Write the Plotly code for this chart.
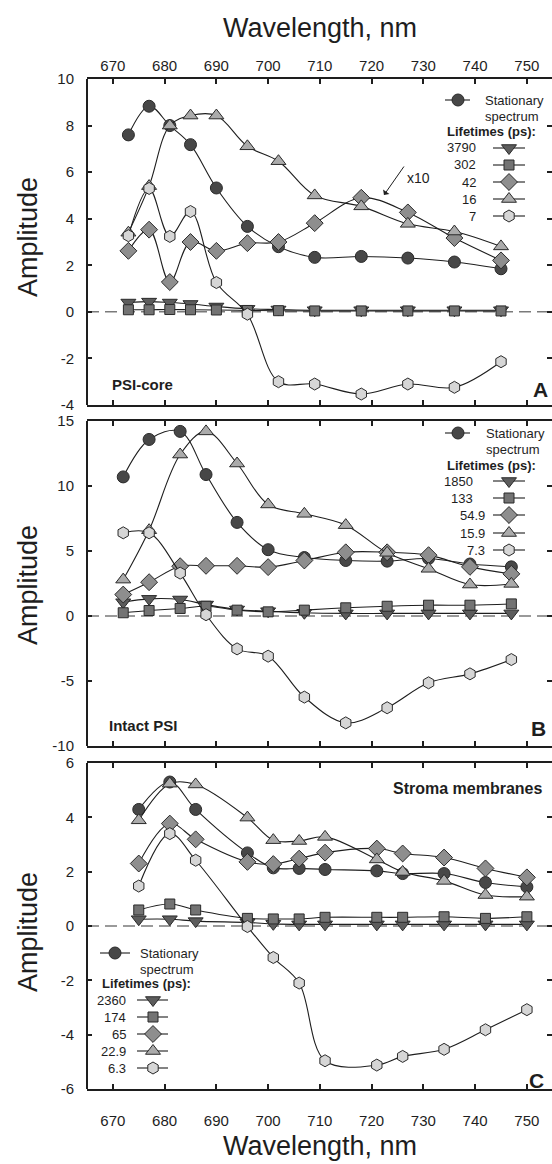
import plotly.graph_objects as go

# ---------------- data ----------------
# Panel A: PSI-core
wl_a = [673, 677, 681, 685, 690, 696, 702, 709, 718, 727, 736, 745]
stat_a = [7.6, 8.83, 8.0, 7.18, 5.32, 3.67, 2.8, 2.34, 2.38, 2.31, 2.14, 1.85]
a_3790 = [0.40, 0.44, 0.40, 0.34, 0.23, 0.13, 0.10, 0.07, 0.07, 0.07, 0.07, 0.07]
a_302 = [0.09, 0.09, 0.10, 0.09, 0.08, 0.06, 0.05, 0.04, 0.04, 0.04, 0.04, 0.04]
a_42 = [2.62, 3.53, 1.28, 3.0, 2.62, 2.95, 3.0, 3.81, 4.9, 4.27, 3.17, 2.21]
a_16 = [3.4, 5.4, 8.0, 8.43, 8.43, 7.11, 6.47, 5.0, 4.53, 3.78, 3.45, 2.81]
a_7 = [3.27, 5.3, 3.24, 4.31, 1.26, -0.1, -3.0, -3.1, -3.53, -3.1, -3.24, -2.14]
lt_a = ["3790", "302", "42", "16", "7"]

# Panel B: Intact PSI
wl_b = [672, 677, 683, 688, 694, 700, 707, 715, 723, 731, 739, 747]
stat_b = [10.7, 13.58, 14.2, 10.88, 7.2, 5.1, 4.5, 4.27, 4.22, 4.42, 4.0, 3.78]
b_1850 = [1.06, 1.32, 1.27, 0.88, 0.5, 0.37, 0.25, 0.2, 0.2, 0.2, 0.2, 0.2]
b_133 = [0.25, 0.42, 0.58, 0.75, 0.45, 0.32, 0.45, 0.63, 0.75, 0.83, 0.83, 0.93]
b_549 = [1.65, 2.6, 3.83, 3.86, 3.86, 3.76, 4.27, 4.9, 4.9, 4.68, 3.78, 3.24]
b_159 = [2.8, 6.6, 12.42, 14.2, 11.73, 8.58, 7.86, 6.99, 4.86, 3.63, 2.42, 2.47]
b_73 = [6.4, 6.4, 3.3, 0.1, -2.53, -3.09, -6.24, -8.22, -7.06, -5.14, -4.45, -3.35]
lt_b = ["1850", "133", "54.9", "15.9", "7.3"]

# Panel C: Stroma membranes
wl_c = [675, 681, 686, 696, 701, 706, 711, 721, 726, 734, 742, 750]
stat_c = [4.29, 5.3, 4.29, 2.69, 2.14, 2.12, 2.08, 2.03, 1.93, 1.93, 1.6, 1.44]
c_2360 = [0.25, 0.25, 0.18, 0.13, 0.08, 0.06, 0.06, 0.06, 0.06, 0.06, 0.06, 0.06]
c_174 = [0.59, 0.81, 0.59, 0.28, 0.26, 0.26, 0.32, 0.32, 0.32, 0.34, 0.28, 0.34]
c_65 = [2.3, 3.77, 3.19, 2.36, 2.28, 2.48, 2.7, 2.85, 2.67, 2.52, 2.12, 1.79]
c_229 = [3.89, 5.24, 5.21, 3.99, 3.16, 3.13, 3.28, 2.45, 1.99, 1.66, 1.14, 1.08]
c_63 = [1.47, 3.4, 2.42, -0.02, -1.16, -2.1, -4.96, -5.12, -4.8, -4.54, -3.82, -3.08]
lt_c = ["2360", "174", "65", "22.9", "6.3"]

x_ticks = [670, 680, 690, 700, 710, 720, 730, 740, 750]
y_ticks_a = [-4, -2, 0, 2, 4, 6, 8, 10]
y_ticks_b = [-10, -5, 0, 5, 10, 15]
y_ticks_c = [-6, -4, -2, 0, 2, 4, 6]

# ---------------- styling ----------------
W, H = 552, 1164
L, R, T, B = 87, 0, 79, 75
PW, PH = W - L - R, H - T - B
FONT = "Liberation Sans, Arial, sans-serif"
INK = "#1e1e1e"


def fx(px):
    return (px - L) / PW


def fy(py):
    return (H - B - py) / PH


STYLES = [  # stationary, long, square, diamond, triangle, hexagon
    dict(symbol="circle", size=12, color="#474747"),
    dict(symbol="triangle-down", size=13, color="#5c5c5c"),
    dict(symbol="square", size=10, color="#737373"),
    dict(symbol="diamond", size=13, color="#8e8e8e"),
    dict(symbol="triangle-up", size=13, color="#ababab"),
    dict(symbol="hexagon", size=12, color="#d6d6d6"),
]

fig = go.Figure()

panels = [
    dict(wl=wl_a, series=[stat_a, a_3790, a_302, a_42, a_16, a_7], top=79, bot=405,
         yr=[-4, 10], yt=y_ticks_a),
    dict(wl=wl_b, series=[stat_b, b_1850, b_133, b_549, b_159, b_73], top=421, bot=746,
         yr=[-10, 15], yt=y_ticks_b),
    dict(wl=wl_c, series=[stat_c, c_2360, c_174, c_65, c_229, c_63], top=763, bot=1089,
         yr=[-6, 6], yt=y_ticks_c),
]

shapes = []
for i, p in enumerate(panels):
    sfx = "" if i == 0 else str(i + 1)
    xa, ya = "x" + sfx, "y" + sfx
    for s, st in zip(p["series"], STYLES):
        fig.add_trace(go.Scatter(
            x=p["wl"], y=s, xaxis=xa, yaxis=ya, mode="lines+markers",
            line=dict(color=INK, width=1.1, shape="spline", smoothing=1.0),
            marker=dict(symbol=st["symbol"], size=st["size"], color=st["color"],
                        line=dict(color="#2a2a2a", width=1)),
            showlegend=False, hoverinfo="skip", cliponaxis=False))
    dom = [fy(p["bot"]), fy(p["top"])]
    fig.update_layout(**{
        "xaxis" + sfx: dict(
            domain=[0, 1], range=[665, 665 + PW / 5.175], anchor=ya,
            tickvals=x_ticks, ticks="inside", ticklen=5, tickwidth=1.5, tickcolor=INK,
            showline=True, linewidth=2, linecolor=INK, mirror="ticks",
            showgrid=False, zeroline=False,
            side="top" if i == 0 else "bottom",
            showticklabels=(i != 1),
            ticklabelstandoff=0 if i == 0 else 17,
            tickfont=dict(size=15, color=INK, family=FONT)),
        "yaxis" + sfx: dict(
            domain=dom, range=p["yr"], anchor=xa,
            tickvals=p["yt"], ticktext=[str(v) for v in p["yt"]],
            ticks="inside", ticklen=5, tickwidth=1.5, tickcolor=INK,
            showline=False, mirror="ticks", showgrid=False, zeroline=False,
            ticklabelstandoff=12,
            tickfont=dict(size=15, color=INK, family=FONT)),
    })
    # left frame line
    shapes.append(dict(type="line", xref="paper", yref="paper", x0=0, x1=0,
                       y0=dom[0], y1=dom[1], line=dict(color=INK, width=2)))
    # dashed zero line
    shapes.append(dict(type="line", xref="x" + sfx + " domain", yref=ya, x0=0, x1=1,
                       y0=0, y1=0, layer="below",
                       line=dict(color="#7a7a7a", width=1.5, dash="12px,6px")))

# legend keys on a pixel-coordinate overlay axis
fig.update_layout(
    xaxis4=dict(domain=[0, 1], range=[L, W], anchor="y4", visible=False),
    yaxis4=dict(domain=[0, 1], range=[H - B, T], anchor="x4", visible=False),
)

annotations = []


def txt(x, y, s, size=13, bold=False, xanchor="left", angle=0):
    annotations.append(dict(
        x=fx(x), y=fy(y), xref="paper", yref="paper", text=("<b>%s</b>" % s) if bold else s,
        showarrow=False, xanchor=xanchor, yanchor="middle", textangle=angle,
        font=dict(size=size, color=INK, family=FONT)))


def legend_key(x0, x1, xm, y, st):
    fig.add_trace(go.Scatter(x=[x0, x1], y=[y, y], xaxis="x4", yaxis="y4", mode="lines",
                             line=dict(color=INK, width=1.1), showlegend=False,
                             hoverinfo="skip", cliponaxis=False))
    fig.add_trace(go.Scatter(x=[xm], y=[y], xaxis="x4", yaxis="y4", mode="markers",
                             marker=dict(symbol=st["symbol"], size=st["size"], color=st["color"],
                                         line=dict(color="#2a2a2a", width=1)),
                             showlegend=False, hoverinfo="skip", cliponaxis=False))


legends = [
    dict(sx=(445, 470, 458), sy=100, tx=483, hy=131, hx=445, rows=[148, 165, 182, 199, 216],
         lab=lt_a, lx=[478] * 5, kx=(493, 525, 509)),
    dict(sx=(445, 470, 458), sy=433, tx=484, hy=465, hx=445, rows=[481, 498, 515, 533, 550],
         lab=lt_b, lx=[475, 475, 487, 487, 487], kx=(493, 525, 509)),
    dict(sx=(100, 130, 115), sy=953, tx=138, hy=983, hx=100, rows=[1000, 1017, 1034, 1051, 1068],
         lab=lt_c, lx=[128] * 5, kx=(137, 168, 153)),
]
for lg in legends:
    legend_key(lg["sx"][0], lg["sx"][1], lg["sx"][2], lg["sy"], STYLES[0])
    txt(lg["tx"], lg["sy"], "Stationary")
    txt(lg["tx"], lg["sy"] + 16, "spectrum")
    txt(lg["hx"], lg["hy"], "Lifetimes (ps):", bold=True)
    for j, (yy, lab, lx) in enumerate(zip(lg["rows"], lg["lab"], lg["lx"])):
        txt(lx, yy, lab, xanchor="right")
        legend_key(lg["kx"][0], lg["kx"][1], lg["kx"][2], yy, STYLES[j + 1])

# panel labels
txt(110, 384, "PSI-core", size=15, bold=True)
txt(540, 389, "A", size=21, bold=True, xanchor="center")
txt(107, 725, "Intact PSI", size=15, bold=True)
txt(538, 728, "B", size=21, bold=True, xanchor="center")
txt(544, 788, "Stroma membranes", size=16, bold=True, xanchor="right")
txt(536, 1080, "C", size=21, bold=True, xanchor="center")

# axis titles
txt(319.5, 28, "Wavelength, nm", size=27, xanchor="center")
txt(319.5, 1146, "Wavelength, nm", size=27, xanchor="center")
for yc in (237, 585, 932):
    txt(28, yc, "Amplitude", size=27, xanchor="center", angle=-90)

# x10 arrow
txt(405, 178, "x10", size=14)
annotations.append(dict(x=fx(384), y=fy(195), xref="paper", yref="paper", text="",
                        showarrow=True, ax=21, ay=-30, arrowhead=1, arrowsize=1.3,
                        arrowwidth=1, arrowcolor=INK))

fig.update_layout(
    width=W, height=H, margin=dict(l=L, r=R, t=T, b=B),
    paper_bgcolor="white", plot_bgcolor="rgba(0,0,0,0)",
    shapes=shapes, annotations=annotations, showlegend=False,
    font=dict(family=FONT, color=INK),
)

fig.write_html("out.html")
